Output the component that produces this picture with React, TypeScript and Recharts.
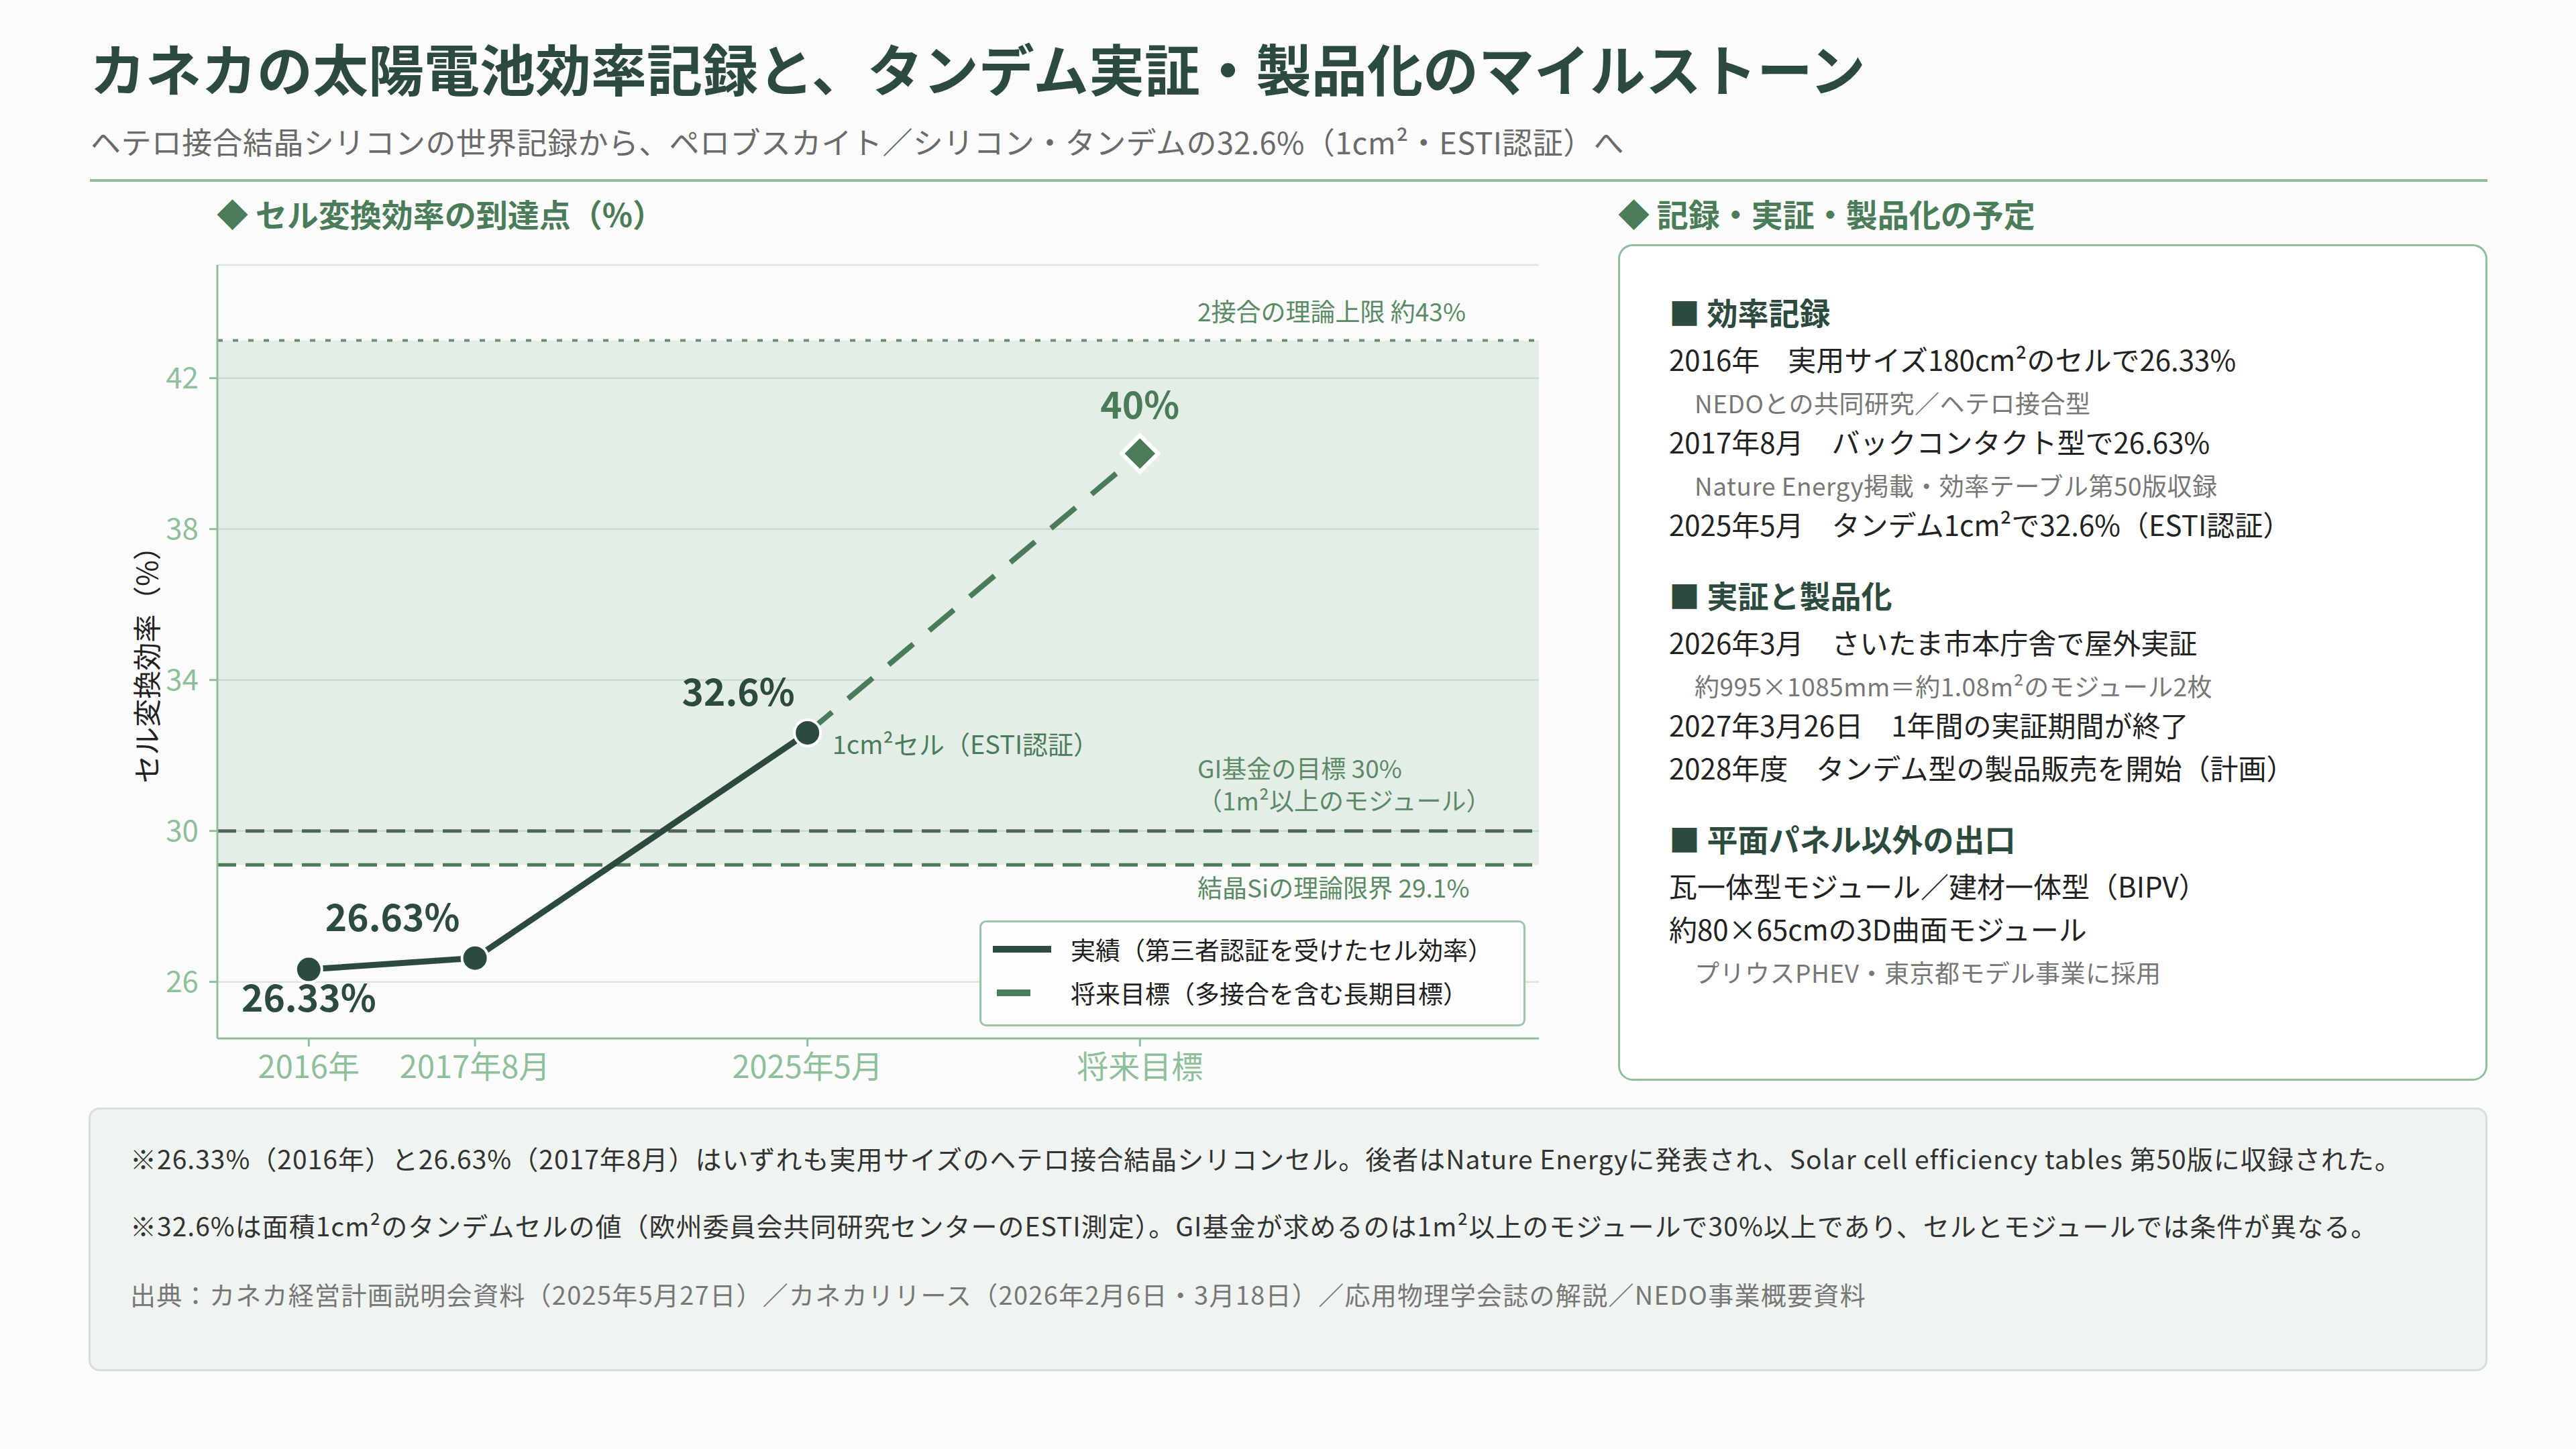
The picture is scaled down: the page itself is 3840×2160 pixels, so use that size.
import React from 'react';
import {
  LineChart,
  Line,
  XAxis,
  YAxis,
  CartesianGrid,
  ReferenceLine,
  ReferenceArea,
  LabelList,
  Legend,
} from 'recharts';

const FONT = '"Noto Sans CJK JP", "Noto Sans", sans-serif';

// chart values
const CATEGORIES = ['2016年', '2017年8月', '2025年5月', '将来目標'];
const SLOTS = [0, 1, 3, 5];
const ACTUAL = [26.33, 26.63, 32.6, null];
const TARGET = [null, null, 32.6, 40];
const POINT_NOTES = ['', '', '1cm²セル（ESTI認証）', ''];
const Y_TICKS = [26, 30, 34, 38, 42];

const TANDEM_LIMIT = 43;
const GI_TARGET = 30;
const SI_LIMIT = 29.1;

const LEGEND_ITEMS = [
  { label: '実績（第三者認証を受けたセル効率）', color: '#2d4a3e', dashed: false },
  { label: '将来目標（多接合を含む長期目標）', color: '#4a7c59', dashed: true },
];

const PANEL_SECTIONS = [
  {
    heading: '効率記録',
    lines: [
      { text: '2016年　実用サイズ180cm²のセルで26.33%' },
      { text: 'NEDOとの共同研究／ヘテロ接合型', sub: true },
      { text: '2017年8月　バックコンタクト型で26.63%' },
      { text: 'Nature Energy掲載・効率テーブル第50版収録', sub: true },
      { text: '2025年5月　タンデム1cm²で32.6%（ESTI認証）' },
    ],
  },
  {
    heading: '実証と製品化',
    lines: [
      { text: '2026年3月　さいたま市本庁舎で屋外実証' },
      { text: '約995×1085mm＝約1.08m²のモジュール2枚', sub: true },
      { text: '2027年3月26日　1年間の実証期間が終了' },
      { text: '2028年度　タンデム型の製品販売を開始（計画）' },
    ],
  },
  {
    heading: '平面パネル以外の出口',
    lines: [
      { text: '瓦一体型モジュール／建材一体型（BIPV）' },
      { text: '約80×65cmの3D曲面モジュール' },
      { text: 'プリウスPHEV・東京都モデル事業に採用', sub: true },
    ],
  },
];

const NOTES = [
  '※26.33%（2016年）と26.63%（2017年8月）はいずれも実用サイズのヘテロ接合結晶シリコンセル。後者はNature Energyに発表され、Solar cell efficiency tables 第50版に収録された。',
  '※32.6%は面積1cm²のタンデムセルの値（欧州委員会共同研究センターのESTI測定）。GI基金が求めるのは1m²以上のモジュールで30%以上であり、セルとモジュールでは条件が異なる。',
];
const SOURCE =
  '出典：カネカ経営計画説明会資料（2025年5月27日）／カネカリリース（2026年2月6日・3月18日）／応用物理学会誌の解説／NEDO事業概要資料';

const DARK = '#2d4a3e';
const GREEN = '#4a7c59';
const LIGHT = '#8fbf9a';
const REF_TEXT = '#5b8a66';

const chartData = CATEGORIES.map((name, i) => ({
  name,
  slot: SLOTS[i],
  actual: ACTUAL[i],
  target: TARGET[i],
}));

// label placement relative to each point
const VALUE_LABEL_OFFSETS = [
  [0, 63],
  [-123, -40],
  [-103, -40],
  [0, -52],
];

const pointXY = (props: any) => {
  const vb = props.viewBox || {};
  return { x: props.x ?? vb.x, y: props.y ?? vb.y };
};

const makeValueLabel = (color: string, skip: (i: number) => boolean) => (props: any) => {
  const { index, value } = props;
  if (value == null || skip(index)) return null;
  const { x, y } = pointXY(props);
  if (x == null || y == null) return null;
  const [dx, dy] = VALUE_LABEL_OFFSETS[index];
  return (
    <text
      key={`v-${index}`}
      x={x + dx}
      y={y + dy}
      textAnchor="middle"
      fill={color}
      fontSize={55}
      fontWeight={700}
      fontFamily={FONT}
    >
      {`${value}%`}
    </text>
  );
};

const renderNote = (props: any) => {
  const { index } = props;
  const note = POINT_NOTES[index];
  if (!note) return null;
  const { x, y } = pointXY(props);
  if (x == null || y == null) return null;
  return (
    <text key={`n-${index}`} x={x + 37} y={y + 32} fill={GREEN} fontSize={38} fontFamily={FONT}>
      {note}
    </text>
  );
};

const ActualDot = (p: any) => {
  if (p.payload?.actual == null || p.cx == null) return <g key={`ad-${p.index}`} />;
  return (
    <circle key={`ad-${p.index}`} cx={p.cx} cy={p.cy} r={19.5} fill={DARK} stroke="#fff" strokeWidth={4} />
  );
};

const TargetDot = (p: any) => {
  // only target-only points get a diamond; the shared point keeps the circle
  if (p.payload?.target == null || p.payload?.actual != null || p.cx == null)
    return <g key={`td-${p.index}`} />;
  const s = 27;
  const { cx, cy } = p;
  return (
    <path
      key={`td-${p.index}`}
      d={`M${cx},${cy - s}L${cx + s},${cy}L${cx},${cy + s}L${cx - s},${cy}Z`}
      fill={GREEN}
      stroke="#fff"
      strokeWidth={6}
    />
  );
};

const refLabel = (lines: string[], dys: number[]) => (props: any) => {
  const vb = props.viewBox || {};
  return (
    <g>
      {lines.map((t, i) => (
        <text key={i} x={vb.x + 1461} y={vb.y + dys[i]} fill={REF_TEXT} fontSize={37} fontFamily={FONT}>
          {t}
        </text>
      ))}
    </g>
  );
};

const YTitle = (props: any) => {
  const vb = props.viewBox || {};
  const x = vb.x + vb.width - 108;
  const y = vb.y + vb.height / 2 + 9;
  return (
    <text
      x={x}
      y={y}
      transform={`rotate(-90, ${x}, ${y})`}
      textAnchor="middle"
      dominantBaseline="central"
      fill="#222"
      fontSize={42}
      fontFamily={FONT}
    >
      セル変換効率（%）
    </text>
  );
};

const LegendBox = () => (
  <div
    style={{
      width: 814,
      height: 158,
      boxSizing: 'border-box',
      border: `3px solid #9cc5a5`,
      borderRadius: 10,
      background: '#fdfefd',
      position: 'relative',
      fontFamily: FONT,
    }}
  >
    {LEGEND_ITEMS.map((item, i) => (
      <div
        key={item.label}
        style={{
          position: 'absolute',
          left: 17,
          top: 40 + i * 65 - 30,
          height: 60,
          display: 'flex',
          alignItems: 'center',
        }}
      >
        <svg width={100} height={20} style={{ display: 'block' }}>
          <line
            x1={item.dashed ? 6 : 0}
            x2={item.dashed ? 56 : 87}
            y1={10}
            y2={10}
            stroke={item.color}
            strokeWidth={10}
          />
        </svg>
        <span style={{ marginLeft: 16, fontSize: 37, color: '#1f1f1f', whiteSpace: 'nowrap' }}>{item.label}</span>
      </div>
    ))}
  </div>
);

function EfficiencyChart() {
  return (
    <LineChart
      width={2200}
      height={1260}
      data={chartData}
      margin={{ top: 15, right: 36, bottom: 2, left: 94 }}
    >
      <CartesianGrid vertical={false} stroke="#dbe6dd" strokeWidth={2.5} />
      <ReferenceArea y1={SI_LIMIT} y2={TANDEM_LIMIT} fill="#5a8f66" fillOpacity={0.125} stroke="none" />
      <XAxis
        type="number"
        dataKey="slot"
        domain={[-0.55, 7.4]}
        allowDataOverflow
        ticks={SLOTS}
        interval={0}
        tickFormatter={(v: number) => CATEGORIES[SLOTS.indexOf(v)] ?? ''}
        height={90}
        tickSize={12}
        tickMargin={14}
        axisLine={{ stroke: LIGHT, strokeWidth: 3 }}
        tickLine={{ stroke: LIGHT, strokeWidth: 3 }}
        tick={{ fill: LIGHT, fontSize: 47, fontFamily: FONT }}
      />
      <YAxis
        type="number"
        domain={[24.5, 45]}
        allowDataOverflow
        ticks={Y_TICKS}
        interval={0}
        width={100}
        tickSize={12}
        tickMargin={16}
        axisLine={{ stroke: LIGHT, strokeWidth: 3 }}
        tickLine={{ stroke: LIGHT, strokeWidth: 3 }}
        tick={{ fill: LIGHT, fontSize: 44, fontFamily: FONT }}
        label={<YTitle />}
      />
      <ReferenceLine
        y={TANDEM_LIMIT}
        stroke="#6b8f72"
        strokeWidth={4}
        strokeDasharray="8 15"
        label={refLabel(['2接合の理論上限 約43%'], [-28])}
      />
      <ReferenceLine
        y={GI_TARGET}
        stroke="#4d665a"
        strokeWidth={5}
        strokeDasharray="28 14"
        label={refLabel(['GI基金の目標 30%', '（1m²以上のモジュール）'], [-79, -31])}
      />
      <ReferenceLine
        y={SI_LIMIT}
        stroke={GREEN}
        strokeWidth={5}
        strokeDasharray="28 14"
        label={refLabel(['結晶Siの理論限界 29.1%'], [49])}
      />
      <Line
        type="linear"
        dataKey="target"
        stroke={GREEN}
        strokeWidth={8}
        strokeDasharray="48 31"
        dot={TargetDot}
        activeDot={false}
        isAnimationActive={false}
        connectNulls={false}
      >
        <LabelList
          dataKey="target"
          content={makeValueLabel(GREEN, (i) => ACTUAL[i] != null)}
        />
      </Line>
      <Line
        type="linear"
        dataKey="actual"
        stroke={DARK}
        strokeWidth={9}
        dot={ActualDot}
        activeDot={false}
        isAnimationActive={false}
        connectNulls={false}
      >
        <LabelList dataKey="actual" content={makeValueLabel(DARK, () => false)} />
        <LabelList dataKey="actual" content={renderNote} />
      </Line>
      <Legend
        layout="horizontal"
        verticalAlign="middle"
        align="center"
        content={<LegendBox />}
        wrapperStyle={{ position: 'absolute', left: 1330, top: 992, width: 814, height: 158 }}
      />
    </LineChart>
  );
}

const sectionHeader = (text: string, top: number, left: number) => (
  <div
    style={{
      position: 'absolute',
      left,
      top,
      fontSize: 47,
      lineHeight: '47px',
      fontWeight: 700,
      color: GREEN,
      whiteSpace: 'nowrap',
    }}
  >
    ◆ {text}
  </div>
);

export default function App() {
  return (
    <div
      style={{
        position: 'absolute',
        left: 0,
        top: 0,
        width: 3840,
        height: 2160,
        background: '#fafbfa',
        overflow: 'hidden',
        fontFamily: FONT,
      }}
    >
      <div
        style={{
          position: 'absolute',
          left: 134,
          top: 59,
          fontSize: 83,
          lineHeight: '83px',
          fontWeight: 700,
          color: DARK,
          whiteSpace: 'nowrap',
        }}
      >
        カネカの太陽電池効率記録と、タンデム実証・製品化のマイルストーン
      </div>
      <div
        style={{
          position: 'absolute',
          left: 135,
          top: 188,
          fontSize: 45,
          lineHeight: '45px',
          letterSpacing: 0.4,
          color: '#6a6a6a',
          whiteSpace: 'nowrap',
        }}
      >
        ヘテロ接合結晶シリコンの世界記録から、ペロブスカイト／シリコン・タンデムの32.6%（1cm²・ESTI認証）へ
      </div>
      <div style={{ position: 'absolute', left: 134, top: 267, width: 3574, height: 4, background: LIGHT }} />

      {sectionHeader('セル変換効率の到達点（%）', 294, 323)}
      {sectionHeader('記録・実証・製品化の予定', 294, 2412)}

      <div style={{ position: 'absolute', left: 130, top: 380 }}>
        <EfficiencyChart />
      </div>

      <div
        style={{
          position: 'absolute',
          left: 2412,
          top: 364,
          width: 1296,
          height: 1247,
          boxSizing: 'border-box',
          border: `3px solid ${LIGHT}`,
          borderRadius: 22,
          background: '#ffffff',
          padding: '65px 0 0 73px',
        }}
      >
        {PANEL_SECTIONS.map((sec, si) => (
          <div key={sec.heading} style={{ marginTop: si === 0 ? 0 : 41 }}>
            <div style={{ fontSize: 46, lineHeight: '64px', fontWeight: 700, color: DARK, whiteSpace: 'nowrap' }}>
              ■ {sec.heading}
            </div>
            <div style={{ height: 7 }} />
            {sec.lines.map((ln) =>
              ln.sub ? (
                <div
                  key={ln.text}
                  style={{
                    fontSize: 37,
                    lineHeight: '52px',
                    letterSpacing: 0.5,
                    paddingTop: 7,
                    paddingLeft: 38,
                    color: '#777',
                    whiteSpace: 'nowrap',
                  }}
                >
                  {ln.text}
                </div>
              ) : (
                <div key={ln.text} style={{ fontSize: 42, lineHeight: '64px', color: '#222', whiteSpace: 'nowrap' }}>
                  {ln.text}
                </div>
              ),
            )}
          </div>
        ))}
      </div>

      <div
        style={{
          position: 'absolute',
          left: 132,
          top: 1651,
          width: 3576,
          height: 393,
          boxSizing: 'border-box',
          border: '3px solid #d3e2d6',
          borderRadius: 16,
          background: '#eff4f0',
          padding: '42px 0 0 59px',
        }}
      >
        {NOTES.map((n, i) => (
          <div
            key={i}
            style={{
              fontSize: 39,
              lineHeight: '60px',
              letterSpacing: 1,
              color: '#333',
              marginTop: i === 0 ? 0 : 40,
              whiteSpace: 'nowrap',
            }}
          >
            {n}
          </div>
        ))}
        <div
          style={{
            fontSize: 38,
            lineHeight: '60px',
            letterSpacing: 1.3,
            color: '#777',
            marginTop: 43,
            whiteSpace: 'nowrap',
          }}
        >
          {SOURCE}
        </div>
      </div>
    </div>
  );
}
